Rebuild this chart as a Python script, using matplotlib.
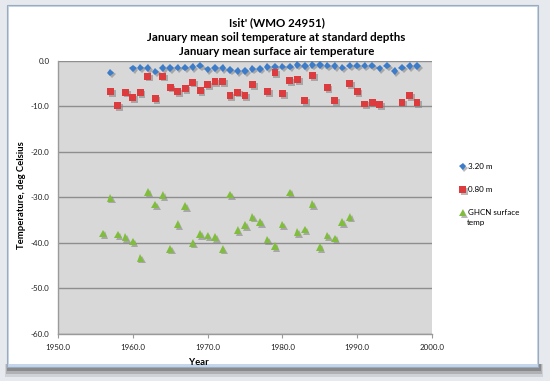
import matplotlib.pyplot as plt
import matplotlib.patheffects as pe
from matplotlib.patches import Rectangle

# 3.20 m soil temperature, January mean
years_320 = [1957, 1960, 1961, 1962, 1963, 1964, 1965, 1966, 1967, 1968, 1969,
             1970, 1971, 1972, 1973, 1974, 1975, 1976, 1977, 1978, 1979, 1980,
             1981, 1982, 1983, 1984, 1985, 1986, 1987, 1988, 1989, 1990, 1991,
             1992, 1993, 1994, 1995, 1996, 1997, 1998]
temp_320 = [-2.6, -1.7, -1.5, -1.6, -2.4, -1.6, -1.6, -1.5, -1.5, -1.4, -1.1,
            -1.9, -1.6, -1.6, -2.0, -2.3, -2.3, -1.8, -1.8, -1.4, -1.3, -1.3,
            -1.3, -0.9, -1.2, -0.9, -0.9, -1.1, -1.2, -1.5, -1.1, -1.1, -1.1,
            -1.1, -1.7, -1.1, -2.3, -1.5, -1.2, -1.2]

# 0.80 m soil temperature
years_080 = [1957, 1958, 1959, 1960, 1961, 1962, 1963, 1964, 1965, 1966, 1967,
             1968, 1969, 1970, 1971, 1972, 1973, 1974, 1975, 1976, 1978, 1979,
             1980, 1981, 1982, 1983, 1984, 1986, 1987, 1989, 1990, 1991, 1992,
             1993, 1996, 1997, 1998]
temp_080 = [-6.8, -9.9, -6.9, -8.1, -7.0, -3.4, -8.3, -3.4, -5.8, -6.8, -6.1,
            -4.7, -6.6, -5.3, -4.6, -4.6, -7.7, -6.9, -7.7, -5.3, -6.8, -2.6,
            -7.2, -4.4, -4.2, -8.8, -3.3, -5.9, -8.8, -5.0, -6.8, -9.5, -9.1,
            -9.7, -9.1, -7.7, -9.2]

# GHCN surface air temperature, January mean
years_air = [1956, 1957, 1958, 1959, 1960, 1961, 1962, 1963, 1964, 1965, 1966,
             1967, 1968, 1969, 1970, 1971, 1972, 1973, 1974, 1975, 1976, 1977,
             1978, 1979, 1980, 1981, 1982, 1983, 1984, 1985, 1986, 1987, 1988,
             1989]
temp_air = [-37.9, -30.1, -38.2, -38.7, -39.7, -43.3, -28.8, -31.6, -29.5,
            -41.3, -35.9, -31.9, -40.0, -38.1, -38.4, -38.7, -41.3, -29.4,
            -37.2, -36.1, -34.3, -35.4, -39.3, -40.7, -36.0, -28.9, -37.6,
            -37.1, -31.5, -40.9, -38.4, -39.0, -35.4, -34.3]

y_ticks = [0, -10, -20, -30, -40, -50, -60]
x_ticks = [1950, 1960, 1970, 1980, 1990, 2000]

plt.rcParams['font.family'] = ['Lato', 'DejaVu Sans']

fig = plt.figure(figsize=(5.5, 3.81), dpi=100)
fig.patch.set_facecolor('#e6e9ed')


def px(x, y, w, h):
    # pixel box (top-left origin) -> figure fraction rectangle
    return (x / 550, 1 - (y + h) / 381), w / 550, h / 381


# soft shadow under the window, then the window frame and white page
for i, a in enumerate([0.12, 0.2, 0.3]):
    xy, w, h = px(5 + i, 364, 538 - 2 * i, 13 - 3 * i)
    fig.patches.append(Rectangle(xy, w, h, transform=fig.transFigure,
                                 facecolor='#303030', edgecolor='none',
                                 alpha=a, zorder=-13 + i))
xy, w, h = px(7, 5, 531, 362)
fig.patches.append(Rectangle(xy, w, h, transform=fig.transFigure,
                             facecolor='#c6d6ea', edgecolor='#9aabc0',
                             linewidth=0.8, zorder=-9))
xy, w, h = px(8.5, 6.5, 528, 357.5)
fig.patches.append(Rectangle(xy, w, h, transform=fig.transFigure,
                             facecolor='white', edgecolor='none',
                             zorder=-8))

ax = fig.add_axes([58 / 550, 1 - 334 / 381, 374 / 550, 273.3 / 381])
ax.set_facecolor('#d8d8d8')
ax.set_zorder(1)

shadow = [pe.SimplePatchShadow(offset=(1.3, -1.3), shadow_rgbFace='#808080',
                               alpha=0.55), pe.Normal()]

ax.plot(years_320, temp_320, linestyle='none', marker='D', markersize=3.8,
        color='#3d7cc9', markeredgewidth=0, label='3.20 m',
        path_effects=shadow, zorder=3)
ax.plot(years_080, temp_080, linestyle='none', marker='s', markersize=4.9,
        color='#dd3c3f', markeredgewidth=0, label='0.80 m',
        path_effects=shadow, zorder=3)
ax.plot(years_air, temp_air, linestyle='none', marker='^', markersize=5.4,
        color='#80bd3c', markeredgewidth=0, label='GHCN surface',
        path_effects=shadow, zorder=3)

ax.set_xlim(1950, 2000)
ax.set_ylim(-60, 0)
ax.set_xticks(x_ticks)
ax.set_xticklabels(['%.1f' % t for t in x_ticks])
ax.set_yticks(y_ticks)
ax.set_yticklabels(['%.1f' % t for t in y_ticks])
ax.yaxis.grid(True, color='#8e8e8e', linewidth=1.0)
ax.set_axisbelow(True)

for side in ['top', 'right']:
    ax.spines[side].set_visible(False)
for side in ['left', 'bottom']:
    ax.spines[side].set_color('#9a9a9a')
    ax.spines[side].set_linewidth(1.0)

ax.tick_params(axis='both', labelsize=5.8, colors='#9a9a9a',
               labelcolor='#222222', length=3, width=0.8)
ax.tick_params(axis='y', length=0, pad=6)
ax.tick_params(axis='x', pad=4)

ax.set_xlabel('Year', fontsize=6.8, fontweight='bold')
ax.xaxis.set_label_coords((199 - 58) / 374, -(358 - 334) / 273.3)
ax.set_ylabel('Temperature, deg Celsius', fontsize=6.8, fontweight='bold')
ax.yaxis.set_label_coords((26 - 58) / 374, (334 - 195) / 273.3)

title_lines = ["Isit' (WMO 24951)",
               'January mean soil temperature at standard depths',
               'January mean surface air temperature']
for i, line in enumerate(title_lines):
    fig.text(0.503, 1 - (23 + 14.3 * i) / 381, line, ha='center',
             va='center', fontsize=8.3, fontweight='bold')

leg = ax.legend(loc='upper left', bbox_to_anchor=(457 / 550, 1 - 160 / 381),
                bbox_transform=fig.transFigure, frameon=False, fontsize=5.8,
                handlelength=0.6, handletextpad=0.35, labelspacing=2.0,
                borderaxespad=0, markerscale=0.95)
fig.text(467 / 550, 1 - 222 / 381, 'temp', fontsize=5.8, va='center',
         ha='left')

fig.savefig('out.png', dpi=100, facecolor=fig.get_facecolor())
